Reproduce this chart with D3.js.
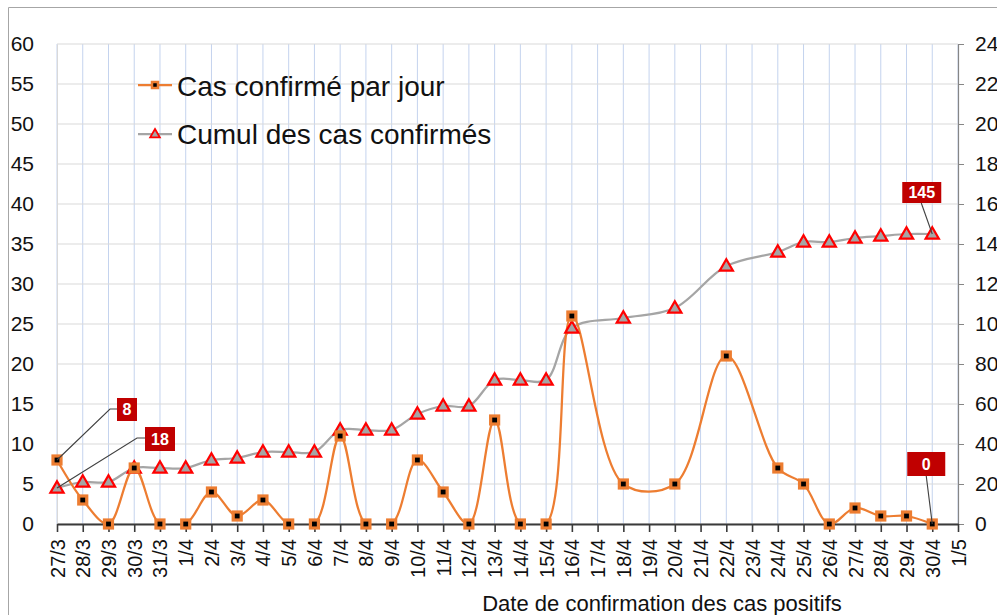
<!DOCTYPE html>
<html>
<head>
<meta charset="utf-8">
<script src="https://cdn.jsdelivr.net/npm/d3@7"></script>
<style>
  body { margin: 0; background: #fff; }
  svg { display: block; font-family: "Liberation Sans", Arial, sans-serif; }
</style>
</head>
<body>
<svg id="chart"></svg>
<script>
// Data.
const dates = ['27/3', '28/3', '29/3', '30/3', '31/3',
  '1/4', '2/4', '3/4', '4/4', '5/4', '6/4', '7/4', '8/4', '9/4', '10/4',
  '11/4', '12/4', '13/4', '14/4', '15/4', '16/4', '17/4', '18/4', '19/4', '20/4',
  '21/4', '22/4', '23/4', '24/4', '25/4', '26/4', '27/4', '28/4', '29/4', '30/4', '1/5'];
const dailyCases = [8, 3, 0, 7, 0, 0, 4, 1, 3, 0, 0, 11, 0, 0, 8, 4, 0, 13, 0, 0,
  26, null, 5, null, 5, null, 21, null, 7, 5, 0, 2, 1, 1, 0, null];
const cumulCases = [18, 21, 21, 28, 28, 28, 32, 33, 36, 36, 36, 47, 47, 47, 55, 59, 59, 72, 72, 72,
  98, null, 103, null, 108, null, 129, null, 136, 141, 141, 143, 144, 145, 145, null];
const leftTicks = d3.range(0, 61, 5);
const rightTicks = d3.range(0, 241, 20);
const legendLabels = ['Cas confirmé par jour', 'Cumul des cas confirmés'];
const xTitle = 'Date de confirmation des cas positifs';
// Data labels: which series and point they belong to.
const callouts = [
  {series: 'daily', index: 0},
  {series: 'cumul', index: 0},
  {series: 'cumul', index: 34},
  {series: 'daily', index: 34}
];

const width = 997, height = 615;
const plot = {left: 57, right: 958, top: 44, bottom: 524};

const svg = d3.select('#chart').attr('width', width).attr('height', height);
svg.append('rect').attr('width', width).attr('height', height).attr('fill', '#fff');

// Outer frame (only top and left edges visible).
svg.append('path').attr('d', `M8.5,${height} V7.5 H${width}`)
  .attr('fill', 'none').attr('stroke', '#a6a6a6');

const x = d3.scalePoint().domain(dates).range([plot.left, plot.right]);
const yL = d3.scaleLinear().domain([0, 60]).range([plot.bottom, plot.top]);
const yR = d3.scaleLinear().domain([0, 240]).range([plot.bottom, plot.top]);

// Gridlines.
svg.append('g').selectAll('line').data(dates).join('line')
  .attr('x1', d => x(d)).attr('x2', d => x(d))
  .attr('y1', plot.top).attr('y2', plot.bottom)
  .attr('stroke', '#c4d3ee').attr('stroke-width', 1);
svg.append('g').selectAll('line').data(leftTicks).join('line')
  .attr('x1', plot.left).attr('x2', plot.right)
  .attr('y1', d => yL(d)).attr('y2', d => yL(d))
  .attr('stroke', '#d9d9d9').attr('stroke-width', 1.2);

// Left axis.
const gL = svg.append('g').attr('transform', `translate(${plot.left},0)`)
  .call(d3.axisLeft(yL).tickValues(leftTicks).tickSize(0).tickPadding(23));
gL.select('.domain').attr('stroke', '#d9d9d9');
gL.selectAll('text').attr('font-size', 21).attr('fill', '#111').attr('font-family', null);

// Right axis (labels run off the right edge, as in the original).
const gR = svg.append('g').attr('transform', `translate(${plot.right},0)`)
  .call(d3.axisRight(yR).tickValues(rightTicks).tickSize(6).tickSizeOuter(0).tickPadding(11));
gR.select('.domain').attr('stroke', '#868686').attr('stroke-width', 1.2);
gR.selectAll('.tick line').attr('stroke', '#868686');
gR.selectAll('text').attr('font-size', 21).attr('fill', '#111').attr('font-family', null);

// Clip lines to the plot area (smoothed curves dip below zero).
svg.append('defs').append('clipPath').attr('id', 'plotClip')
  .append('rect').attr('x', plot.left - 5).attr('y', plot.top)
  .attr('width', plot.right - plot.left + 10).attr('height', plot.bottom - plot.top);

const dailyPts = dates.map((d, i) => ({d, v: dailyCases[i]})).filter(p => p.v !== null);
const cumulPts = dates.map((d, i) => ({d, v: cumulCases[i]})).filter(p => p.v !== null);

const lineL = d3.line().x(p => x(p.d)).y(p => yL(p.v)).curve(d3.curveCatmullRom);
const lineR = d3.line().x(p => x(p.d)).y(p => yR(p.v)).curve(d3.curveCatmullRom);

const lines = svg.append('g').attr('clip-path', 'url(#plotClip)');
lines.append('path').datum(cumulPts).attr('d', lineR)
  .attr('fill', 'none').attr('stroke', '#a5a5a5').attr('stroke-width', 2.25);
lines.append('path').datum(dailyPts).attr('d', lineL)
  .attr('fill', 'none').attr('stroke', '#ed7d31').attr('stroke-width', 2.25);

// Bottom axis.
const gB = svg.append('g').attr('transform', `translate(0,${plot.bottom})`)
  .call(d3.axisBottom(x).tickSize(8).tickSizeOuter(0));
gB.select('.domain').attr('stroke', '#3a3a3a').attr('stroke-width', 2.2);
gB.selectAll('.tick line').attr('stroke', '#3a3a3a').attr('stroke-width', 1.6);
gB.selectAll('text')
  .attr('font-size', 20).attr('fill', '#111').attr('font-family', null)
  .attr('transform', 'rotate(-90)')
  .attr('x', -15).attr('y', 0).attr('dy', '0.35em')
  .attr('text-anchor', 'end');

// Markers.
const tri = s => `M0,${-s * 0.62}L${s * 0.6},${s * 0.42}L${-s * 0.6},${s * 0.42}Z`;
svg.append('g').selectAll('path').data(cumulPts).join('path')
  .attr('transform', p => `translate(${x(p.d)},${yR(p.v)})`)
  .attr('d', tri(11))
  .attr('fill', '#a5a5a5').attr('stroke', '#ff0000').attr('stroke-width', 2.2);
svg.append('g').selectAll('rect').data(dailyPts).join('rect')
  .attr('x', p => x(p.d) - 4).attr('y', p => yL(p.v) - 4)
  .attr('width', 8).attr('height', 8)
  .attr('fill', '#000').attr('stroke', '#ed7d31').attr('stroke-width', 3.2);

// Legend.
const legend = svg.append('g');
[0, 1].forEach(k => {
  const ly = k === 0 ? 85 : 134;
  legend.append('line').attr('x1', 138).attr('x2', 172).attr('y1', ly).attr('y2', ly)
    .attr('stroke', k === 0 ? '#ed7d31' : '#a5a5a5').attr('stroke-width', 2.25);
  if (k === 0) {
    legend.append('rect').attr('x', 152).attr('y', ly - 3).attr('width', 6).attr('height', 6)
      .attr('fill', '#000').attr('stroke', '#ed7d31').attr('stroke-width', 2.5);
  } else {
    legend.append('path').attr('transform', `translate(155,${ly})`).attr('d', tri(8))
      .attr('fill', '#a5a5a5').attr('stroke', '#ff0000').attr('stroke-width', 1.8);
  }
  legend.append('text').attr('x', 177).attr('y', k === 0 ? 96 : 144)
    .attr('font-size', 28).attr('fill', '#111').text(legendLabels[k]);
});

// Data labels with leader lines.
const layouts = [
  {elbow: [53, -51], box: [60, -62, 20, 23]},
  {elbow: [80, -50], box: [88, -61, 30, 24]},
  {elbow: null, end: [-11, -31], box: [-30, -52, 39, 21]},
  {elbow: null, end: [-6, -48], box: [-25, -72, 38, 24]}
];
const labels = svg.append('g');
callouts.forEach((c, k) => {
  const val = c.series === 'daily' ? dailyCases[c.index] : cumulCases[c.index];
  const px = x(dates[c.index]);
  const py = c.series === 'daily' ? yL(val) : yR(val);
  const L = layouts[k];
  const [bx, by, bw, bh] = [px + L.box[0], py + L.box[1], L.box[2], L.box[3]];
  let d;
  if (L.elbow) {
    d = `M${px},${py}L${px + L.elbow[0]},${py + L.elbow[1]}H${bx}`;
  } else {
    d = `M${px},${py}L${px + L.end[0]},${py + L.end[1]}`;
  }
  labels.append('path').attr('d', d).attr('fill', 'none')
    .attr('stroke', '#404040').attr('stroke-width', 1.1);
  labels.append('rect').attr('x', bx).attr('y', by).attr('width', bw).attr('height', bh)
    .attr('fill', '#c00000');
  labels.append('text').attr('x', bx + bw / 2).attr('y', by + bh / 2).attr('dy', '0.36em')
    .attr('text-anchor', 'middle').attr('font-size', 16).attr('font-weight', 'bold')
    .attr('fill', '#fff').text(val);
});

// X axis title.
svg.append('text').attr('x', 662).attr('y', 611).attr('text-anchor', 'middle')
  .attr('font-size', 22).attr('fill', '#111').text(xTitle);
</script>
</body>
</html>
